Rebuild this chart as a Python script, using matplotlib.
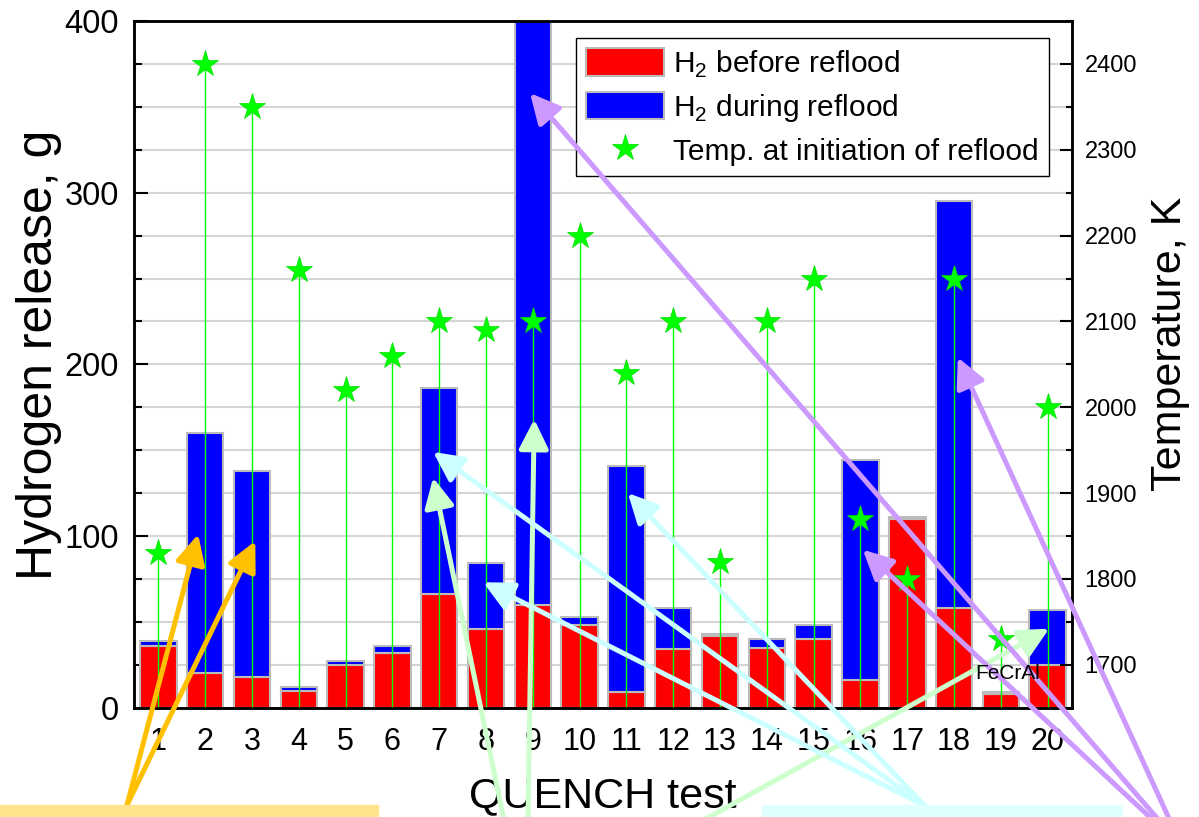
import matplotlib
matplotlib.use("Agg")
import matplotlib.pyplot as plt
from matplotlib.patches import Rectangle
from matplotlib.ticker import MultipleLocator
import numpy as np

plt.rcParams['font.family'] = ['Liberation Sans', 'DejaVu Sans']
plt.rcParams['mathtext.fontset'] = 'custom'
plt.rcParams['mathtext.rm'] = 'Liberation Sans'

# QUENCH tests 1..20
tests = list(range(1, 21))
h2_before = [36, 20, 18, 10, 25, 32, 66, 46, 60, 48, 9, 34, 42, 35, 40, 16, 110, 58, 8, 25]
h2_total = [39, 160, 138, 12, 27, 36, 186, 84, 460, 53, 141, 58, 43, 40, 48, 144, 111, 295, 9, 57]
temps = [1830, 2400, 2350, 2160, 2020, 2060, 2100, 2090, 2100, 2200,
         2040, 2100, 1820, 2100, 2150, 1870, 1800, 2150, 1730, 2000]
h2_during = [t - b for t, b in zip(h2_total, h2_before)]

# annotation arrows: (colour, tail in figure fraction, tips in data coords)
arrow_groups = [
    ("#FFC000", [(0.106, 0.015)], [(1.85, 101), (3.07, 97)]),
    ("#CCFFCC", [(0.425, -0.037), (0.44, -0.037), (0.546, -0.037)], [(6.87, 134), (9.03, 168), (20.03, 46)]),
    ("#CCFFFF", [(0.771, 0.014)], [(6.87, 149), (7.94, 73), (11.03, 125)]),
    ("#CC99FF", [(0.986, -0.037)], [(8.94, 358), (16.05, 92), (18.08, 204)]),
]

fig = plt.figure(figsize=(11.99, 8.17), dpi=100)
ax = fig.add_axes([0.1118, 0.1338, 0.7823, 0.8405])

ax.bar(tests, h2_before, width=0.78, color='#FF0000', edgecolor='#BBBBBB', lw=1.5,
       label=r'H$_2$ before reflood')
ax.bar(tests, h2_during, bottom=h2_before, width=0.78, color='#0000FF', edgecolor='#BBBBBB', lw=1.5,
       label=r'H$_2$ during reflood')

ax.set_xlim(0.48, 20.52)
ax.set_ylim(0, 400)
ax.set_xticks(tests)
ax.yaxis.set_major_locator(MultipleLocator(100))
ax.yaxis.set_minor_locator(MultipleLocator(25))
ax.set_axisbelow(True)
ax.grid(axis='y', which='both', color='#D5D5D5', lw=1.5)
ax.tick_params(axis='y', which='major', direction='in', length=10, width=1.5, labelsize=23.5, pad=11)
ax.tick_params(axis='y', which='minor', direction='in', length=6, width=1.5)
ax.tick_params(axis='x', length=0, labelsize=22, pad=14)
for s in ax.spines.values():
    s.set_linewidth(1.8)
ax.set_xlabel('QUENCH test', fontsize=31, labelpad=14)
ax.set_ylabel('Hydrogen release, g', fontsize=36)
ax.yaxis.set_label_coords(-0.077, 0.514)

ax2 = ax.twinx()
ax2.set_ylim(1650, 2450)
ax2.vlines(tests, 1650, temps, color='#00FF00', lw=1)
star, = ax2.plot(tests, temps, '*', color='#00FF00', ms=20, mec='#00DD00', mew=0.5,
                 label='Temp. at initiation of reflood')
ax2.yaxis.set_minor_locator(MultipleLocator(50))
ax2.set_yticks([1700, 1800, 1900, 2000, 2100, 2200, 2300, 2400])
ax2.tick_params(axis='y', which='major', direction='in', length=9, width=1.5, labelsize=17, pad=9)
ax2.tick_params(axis='y', which='minor', direction='in', length=4, width=1.5)
for s in ax2.spines.values():
    s.set_linewidth(1.8)
ax2.set_ylabel('Temperature, K', fontsize=31)
ax2.yaxis.set_label_coords(1.083, 0.53)

ax2.text(19.15, 20, 'FeCrAl', transform=ax.transData, fontsize=15,
         ha='center', va='center', zorder=25)

h1, l1 = ax.get_legend_handles_labels()
leg = ax2.legend(h1 + [star], l1 + [star.get_label()], loc='upper right',
                 bbox_to_anchor=(0.9755, 0.9752), borderaxespad=0, fontsize=21.5,
                 frameon=True, fancybox=False, framealpha=1, edgecolor='black',
                 handlelength=2.6, handleheight=1.05, handletextpad=0.3,
                 labelspacing=0.4, borderpad=0.35, numpoints=1)
leg.get_frame().set_linewidth(1)

# coloured boxes at the bottom edge
fig.patches.append(Rectangle((0, 0), 378 / 1199, 12 / 817, transform=fig.transFigure,
                             color='#FFE38A', zorder=1))
fig.patches.append(Rectangle((762 / 1199, 0), 360 / 1199, 12 / 817, transform=fig.transFigure,
                             color='#E0FFFF', zorder=1))

for col, tails, tips in arrow_groups:
    for i, tip in enumerate(tips):
        tail = tails[i] if len(tails) > 1 else tails[0]
        ax2.annotate('', xy=tip, xycoords=ax.transData, xytext=tail, textcoords='figure fraction',
                     annotation_clip=False, zorder=20,
                     arrowprops=dict(arrowstyle='-|>,head_length=1.0,head_width=0.5',
                                     mutation_scale=18, lw=3.6, color=col,
                                     shrinkA=0, shrinkB=0))

fig.savefig('out.png', dpi=100)
